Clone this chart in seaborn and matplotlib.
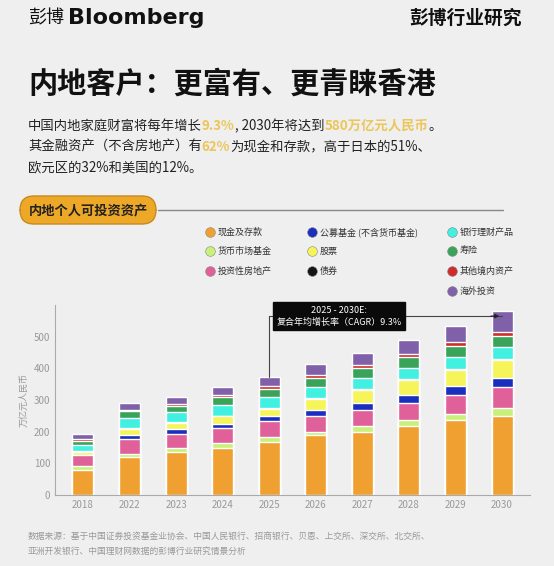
import numpy as np
import pandas as pd
import matplotlib
matplotlib.use('Agg')
import matplotlib.pyplot as plt
import seaborn as sns
from matplotlib.patches import FancyBboxPatch

years = ['2018', '2022', '2023', '2024', '2025', '2026', '2027', '2028', '2029', '2030']
cash      = [80, 120, 135, 150, 168, 188, 200, 218, 236, 250]
money_mkt = [12, 10, 12, 13, 15, 12, 17, 18, 20, 25]
property_ = [33, 48, 45, 48, 50, 50, 50, 55, 60, 65]
pub_fund  = [2, 12, 15, 13, 15, 18, 25, 25, 28, 30]
stocks    = [8, 20, 20, 25, 25, 35, 40, 48, 50, 55]
bonds     = [3, 2, 2, 2, 2, 2, 3, 3, 3, 3]
wealth    = [20, 31, 33, 32, 33, 35, 35, 35, 38, 40]
insurance = [13, 22, 20, 26, 28, 30, 32, 33, 36, 33]
other_dom = [6, 5, 5, 6, 7, 8, 8, 10, 12, 15]
overseas  = [15, 20, 23, 25, 30, 35, 40, 45, 50, 65]

layers = [('现金及存款', cash, '#f0a030'), ('货币市场基金', money_mkt, '#c8f07a'),
          ('投资性房地产', property_, '#e0609a'), ('公募基金 (不含货币基金)', pub_fund, '#1a2fc0'),
          ('股票', stocks, '#f5f55a'), ('债券', bonds, '#151515'),
          ('银行理财产品', wealth, '#40f0e0'), ('寿险', insurance, '#3aa35a'),
          ('其他境内资产', other_dom, '#d02a2a'), ('海外投资', overseas, '#8060a8')]

sns.set_style('white')
plt.rcParams['font.family'] = ['Noto Sans CJK SC', 'DejaVu Sans']
bg = '#efefef'
fig = plt.figure(figsize=(5.54, 5.66), dpi=100, facecolor=bg)
W, H = 554, 566

def fx(px):
    return px / W

def fy(py):
    return 1 - py / H

# header
fig.text(fx(28), fy(18), '彭博', fontsize=13, va='center', color='#111')
fig.text(fx(68), fy(18), 'Bloomberg', fontsize=16, fontweight='bold', va='center',
         family='DejaVu Sans', color='#111')
fig.text(fx(522), fy(18), '彭博行业研究', fontsize=13.5, fontweight='bold', va='center',
         ha='right', color='#111')
fig.text(fx(28), fy(84), '内地客户：更富有、更青睐香港', fontsize=21, fontweight='bold',
         va='center', color='#111')

# paragraph with highlighted runs
gold = '#ecc65a'
lines = [[('中国内地家庭财富将每年增长', '#222'), ('9.3%', gold), (', 2030年将达到', '#222'),
          ('580万亿元人民币', gold), ('。', '#222')],
         [('其金融资产（不含房地产）有', '#222'), ('62%', gold), ('为现金和存款，高于日本的51%、', '#222')],
         [('欧元区的32%和美国的12%。', '#222')]]
fig.canvas.draw()
rend = fig.canvas.get_renderer()
for i, runs in enumerate(lines):
    x = fx(28)
    for s, c in runs:
        t = fig.text(x, fy(126 + i * 20.5), s, fontsize=9.6, va='center', color=c,
                     fontweight='bold' if c == gold else 'normal')
        x += t.get_window_extent(rend).width / W

# tag
fig.add_artist(plt.Line2D([fx(158), fx(503)], [fy(210), fy(210)], color='#888', lw=1))
fig.add_artist(FancyBboxPatch((fx(20), fy(224)), fx(136), fy(196) - fy(224),
                              boxstyle='round,pad=0,rounding_size=0.025',
                              fc='#eea828', ec='#c88a20', lw=1))
fig.text(fx(88), fy(210), '内地个人可投资资产', fontsize=9.5, fontweight='bold',
         ha='center', va='center', color='#222')

# legend
pos = {0: (210, 232), 1: (210, 251), 2: (210, 271), 3: (312, 232), 4: (312, 251),
       5: (312, 271), 6: (452, 232), 7: (452, 251), 8: (452, 271), 9: (452, 291)}
for i, (name, _, col) in enumerate(layers):
    px, py = pos[i]
    fig.add_artist(plt.Line2D([fx(px)], [fy(py)], marker='o', ms=7, color=col,
                              mec='#888', mew=0.4))
    fig.text(fx(px + 8), fy(py), name, fontsize=6.5, va='center', color='#333')

# chart
ax = fig.add_axes([fx(55), fy(495), fx(475), fy(305) - fy(495)], facecolor=bg)
df = pd.DataFrame({'year': years})
cum = np.zeros(len(years))
cums = []
for name, vals, col in layers:
    cum = cum + np.array(vals)
    cums.append(cum.copy())
for (name, vals, col), c in reversed(list(zip(layers, cums))):
    df['v'] = c
    sns.barplot(data=df, x='year', y='v', color=col, width=0.45, saturation=1, ax=ax)
ax.set_ylim(0, 600)
ax.set_xlim(-0.6, 9.6)
ax.set_yticks([0, 100, 200, 300, 400, 500])
ax.set_xlabel('')
ax.set_ylabel('万亿元人民币', fontsize=6.5, color='#999')
ax.tick_params(labelsize=7, colors='#999', length=0)
for s in ['top', 'right']:
    ax.spines[s].set_visible(False)
for s in ['left', 'bottom']:
    ax.spines[s].set_color('#aaa')
    ax.spines[s].set_linewidth(0.8)

# CAGR annotation
tot = cums[-1]
ax.plot([4, 4, 9], [tot[4], 565, 565], color='#444', lw=0.8, clip_on=False)
ax.annotate('', xy=(9.0, 565), xytext=(8.7, 565),
            arrowprops=dict(arrowstyle='-|>', color='#222', lw=0.8, mutation_scale=6),
            annotation_clip=False)
ax.text(5.5, 565, '2025 - 2030E:\n复合年均增长率（CAGR）9.3%', ha='center', va='center',
        fontsize=6.5, color='white', linespacing=1.4,
        bbox=dict(boxstyle='square,pad=0.4', fc='#0a0a0a', ec='#0a0a0a'), clip_on=False)

# footer
fig.text(fx(28), fy(536), '数据来源：基于中国证券投资基金业协会、中国人民银行、招商银行、贝恩、上交所、深交所、北交所、',
         fontsize=6.3, color='#999', va='center')
fig.text(fx(28), fy(551), '亚洲开发银行、中国理财网数据的彭博行业研究情景分析',
         fontsize=6.3, color='#999', va='center')

fig.savefig('out.png', dpi=100, facecolor=bg)
